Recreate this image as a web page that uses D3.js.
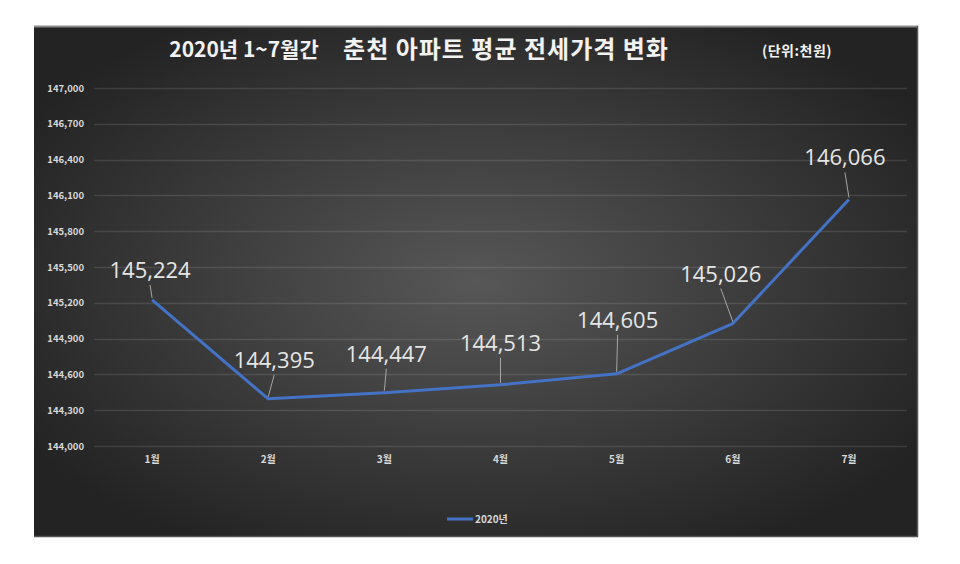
<!DOCTYPE html>
<html>
<head>
<meta charset="utf-8">
<script src="https://cdn.jsdelivr.net/npm/d3@7"></script>
<style>
  html, body { margin: 0; padding: 0; background: #ffffff; }
  svg { display: block; }
</style>
</head>
<body>
<svg id="chart" width="960" height="564"></svg>
<script>
// ---- data ----
const categories = ["1월", "2월", "3월", "4월", "5월", "6월", "7월"];
const values2020 = [145224, 144395, 144447, 144513, 144605, 145026, 146066];
const seriesName = "2020년";
const yTicks = [144000, 144300, 144600, 144900, 145200, 145500, 145800, 146100, 146400, 146700, 147000];
const titlePeriod = "2020년 1~7월간";
const titleMain = "춘천 아파트 평균 전세가격 변화";
const unitLabel = "(단위:천원)";

// ---- layout (label placement offsets, not data) ----
const labelDx = [-2, 6, 2, 0, 1, -12, -4];
const labelDy = [-22, -31, -31, -34, -46, -42, -34];

const svg = d3.select("#chart");
const frame = { x: 34, y: 26, w: 884, h: 511 };
const plot = { left: 94, right: 907, top: 88, bottom: 446 };

// background gradient
const defs = svg.append("defs");
const rg = defs.append("radialGradient").attr("id", "bg")
  .attr("cx", "50%").attr("cy", "50%").attr("r", "60%");
rg.append("stop").attr("offset", "0%").attr("stop-color", "#575757");
rg.append("stop").attr("offset", "100%").attr("stop-color", "#232323");

svg.append("rect").attr("x", frame.x).attr("y", frame.y)
  .attr("width", frame.w).attr("height", frame.h)
  .attr("fill", "url(#bg)");
// frame borders
svg.append("line").attr("x1", frame.x).attr("x2", frame.x + frame.w)
  .attr("y1", frame.y + 0.5).attr("y2", frame.y + 0.5)
  .attr("stroke", "#8c8c8c").attr("stroke-width", 2);
svg.append("line").attr("x1", frame.x + frame.w - 0.5).attr("x2", frame.x + frame.w - 0.5)
  .attr("y1", frame.y).attr("y2", frame.y + frame.h)
  .attr("stroke", "#555555").attr("stroke-width", 1.5);
svg.append("line").attr("x1", frame.x).attr("x2", frame.x + frame.w)
  .attr("y1", frame.y + frame.h - 0.5).attr("y2", frame.y + frame.h - 0.5)
  .attr("stroke", "#555555").attr("stroke-width", 1.5);

// scales
const x = d3.scaleBand().domain(categories).range([plot.left, plot.right]).padding(0);
const y = d3.scaleLinear().domain([144000, 147000]).range([plot.bottom, plot.top]);
const cx = d => x(d) + x.bandwidth() / 2;

// gridlines
svg.append("g").selectAll("line").data(yTicks).join("line")
  .attr("x1", plot.left).attr("x2", plot.right)
  .attr("y1", d => Math.round(y(d)) + 0.5).attr("y2", d => Math.round(y(d)) + 0.5)
  .attr("stroke", "rgba(255,255,255,0.11)").attr("stroke-width", 1.5);

// y axis
const fmt = d3.format(",");
const yAxis = d3.axisLeft(y).tickValues(yTicks).tickFormat(fmt).tickSize(0).tickPadding(0);
const gy = svg.append("g").attr("transform", `translate(84,0)`).call(yAxis);
gy.select(".domain").remove();
gy.selectAll("text")
  .attr("fill", "#d9d9d9")
  .style("font-family", "'Noto Sans CJK KR', 'Noto Sans', sans-serif")
  .style("font-size", "9.5px").style("font-weight", "bold");

// x axis
const xAxis = d3.axisBottom(x).tickSize(0).tickPadding(0);
const gx = svg.append("g").attr("transform", `translate(0,456)`).call(xAxis);
gx.select(".domain").remove();
gx.selectAll("text")
  .attr("fill", "#d9d9d9")
  .style("font-family", "'Noto Sans CJK KR', sans-serif")
  .style("font-size", "10px").style("font-weight", "bold");

// line
const pts = categories.map((c, i) => ({ c, v: values2020[i], i }));
svg.append("path").datum(pts)
  .attr("fill", "none").attr("stroke", "#4472c4").attr("stroke-width", 3)
  .attr("stroke-linejoin", "round")
  .attr("d", d3.line().x(d => cx(d.c)).y(d => y(d.v)));

// leader lines
svg.append("g").selectAll("line").data(pts).join("line")
  .attr("x1", d => cx(d.c) + labelDx[d.i])
  .attr("y1", d => y(d.v) + labelDy[d.i] + 7)
  .attr("x2", d => cx(d.c))
  .attr("y2", d => y(d.v) - 2)
  .attr("stroke", "#a6a6a6").attr("stroke-width", 1);

// data labels
svg.append("g").selectAll("text").data(pts).join("text")
  .attr("x", d => cx(d.c) + labelDx[d.i])
  .attr("y", d => y(d.v) + labelDy[d.i])
  .attr("text-anchor", "middle")
  .attr("fill", "#e6e6e6")
  .style("font-family", "'Open Sans', sans-serif")
  .style("font-size", "22px")
  .text(d => fmt(d.v));

// title
svg.append("text").attr("x", 244).attr("y", 57)
  .attr("text-anchor", "middle").attr("fill", "#f2f2f2")
  .style("font-family", "'Noto Sans CJK KR', sans-serif")
  .style("font-size", "21px").style("font-weight", "bold")
  .text(titlePeriod);
svg.append("text").attr("x", 506).attr("y", 58)
  .attr("text-anchor", "middle").attr("fill", "#f2f2f2")
  .style("font-family", "'Noto Sans CJK KR', sans-serif")
  .style("font-size", "24px").style("font-weight", "bold")
  .style("letter-spacing", "1px")
  .text(titleMain);
svg.append("text").attr("x", 797).attr("y", 56)
  .attr("text-anchor", "middle").attr("fill", "#f2f2f2")
  .style("font-family", "'Noto Sans CJK KR', sans-serif")
  .style("font-size", "14px").style("font-weight", "bold")
  .style("letter-spacing", "0.5px")
  .text(unitLabel);

// legend
const lg = svg.append("g");
lg.append("line").attr("x1", 447).attr("x2", 473).attr("y1", 519).attr("y2", 519)
  .attr("stroke", "#4472c4").attr("stroke-width", 3);
lg.append("text").attr("x", 475).attr("y", 523)
  .attr("fill", "#d9d9d9")
  .style("font-family", "'Noto Sans CJK KR', sans-serif")
  .style("font-size", "10px").style("font-weight", "bold")
  .text(seriesName);
</script>
</body>
</html>
